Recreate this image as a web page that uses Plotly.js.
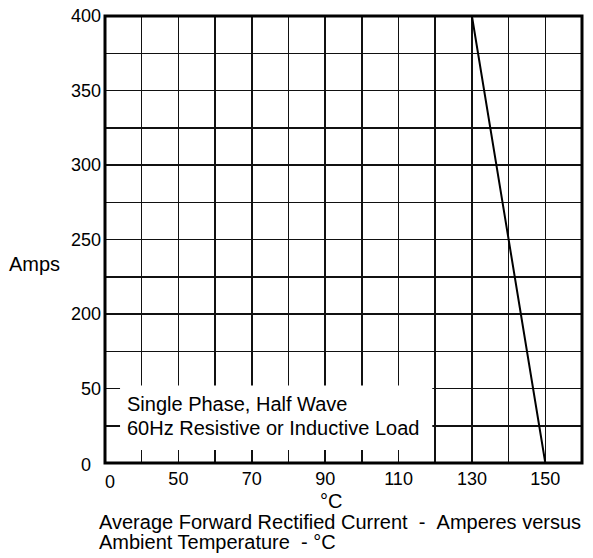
<!DOCTYPE html>
<html>
<head>
<meta charset="utf-8">
<script src="https://cdn.plot.ly/plotly-3.0.1.min.js"></script>
<style>html,body{margin:0;padding:0;background:#fff;}#chart{width:593px;height:558px;}</style>
</head>
<body>
<div id="chart"></div>
<script>
// ---- data (broken axes: left end labelled 0 °C, bottom labelled 0 A) ----
const tempC = [0, 130, 150];          // ambient temperature, °C
const amps  = [400, 400, 0];          // average forward rectified current, A
const xTickValues = [0, 50, 70, 90, 110, 130, 150];
const xTickLabels = ["0", "50", "70", "90", "110", "130", "150"];
const yTickValues = [0, 50, 200, 250, 300, 350, 400];
const yTickLabels = ["0", "50", "200", "250", "300", "350", "400"];
const noteLines = ["Single Phase, Half Wave", "60Hz Resistive or Inductive Load"];
const xUnit = "°C";
const captionLines = ["Average Forward Rectified Current  -  Amperes versus", "Ambient Temperature  - °C"];
const yTitle = "Amps";

// broken-axis mapping (value -> axis position)
function bx(t) { return t >= 50 ? t : 30 + t * 20 / 50; }
function by(a) { return a >= 200 ? a : 100 + a; }

const W = 593, H = 558, L = 105, R = 11, T = 16, B = 95;
const pw = W - L - R, ph = H - T - B;
const px = x => (x - L) / pw;
const py = y => (H - B - y) / ph;
const nb = s => s.replace(/  /g, '\u00a0\u00a0');

const FONT = 'Liberation Sans, Arial, Helvetica, sans-serif';

const trace = {
  x: tempC.map(bx), y: amps.map(by),
  type: 'scatter', mode: 'lines',
  line: {color: '#000', width: 2},
  hoverinfo: 'skip', showlegend: false
};

// grid every 10 °C / 25 A positions, labels only where the chart has them
const xtv = [], xtt = [], ytv = [], ytt = [];
for (let p = 30; p <= 160; p += 10) {
  xtv.push(p);
  const i = xTickValues.findIndex(v => v !== 0 && bx(v) === p);
  xtt.push(i >= 0 ? xTickLabels[i] : '');
}
for (let p = 100; p <= 400; p += 25) {
  ytv.push(p);
  const i = yTickValues.findIndex(v => v !== 0 && by(v) === p);
  ytt.push(i >= 0 ? yTickLabels[i] : '');
}

const ann = [];
const f = (s) => ({family: FONT, size: s, color: '#000'});
// zero labels of broken axes
ann.push({xref: 'paper', yref: 'paper', x: px(110), y: py(482), text: xTickLabels[0], showarrow: false,
  xanchor: 'center', yanchor: 'middle', font: f(18)});
ann.push({xref: 'paper', yref: 'paper', x: px(93), y: py(465), text: yTickLabels[0], showarrow: false,
  xanchor: 'right', yanchor: 'middle', font: f(18)});
// y title
ann.push({xref: 'paper', yref: 'paper', x: px(34.5), y: py(264), text: yTitle, showarrow: false,
  xanchor: 'center', yanchor: 'middle', font: f(20)});
// note in plot
ann.push({xref: 'paper', yref: 'paper', x: px(125), y: py(404), text: noteLines[0], showarrow: false,
  xanchor: 'left', yanchor: 'middle', font: f(20)});
ann.push({xref: 'paper', yref: 'paper', x: px(125), y: py(428), text: noteLines[1], showarrow: false,
  xanchor: 'left', yanchor: 'middle', font: f(20)});
// x unit
ann.push({xref: 'paper', yref: 'paper', x: px(331), y: py(501), text: xUnit, showarrow: false,
  xanchor: 'center', yanchor: 'middle', font: f(20)});
// caption
ann.push({xref: 'paper', yref: 'paper', x: px(97), y: py(522), text: nb(captionLines[0]), showarrow: false,
  xanchor: 'left', yanchor: 'middle', font: f(20)});
ann.push({xref: 'paper', yref: 'paper', x: px(97), y: py(542), text: nb(captionLines[1]), showarrow: false,
  xanchor: 'left', yanchor: 'middle', font: f(20)});

const layout = {
  width: W, height: H,
  margin: {l: L, r: R, t: T, b: B, pad: 0},
  paper_bgcolor: '#fff', plot_bgcolor: '#fff',
  showlegend: false,
  xaxis: {
    range: [30, 160], fixedrange: true, zeroline: false, showline: false,
    tickmode: 'array', tickvals: xtv, ticktext: xtt, ticks: '', ticklabelstandoff: 3,
    showgrid: true, gridcolor: '#111', gridwidth: 1.5,
    tickfont: f(18)
  },
  yaxis: {
    range: [100, 400], fixedrange: true, zeroline: false, showline: false,
    tickmode: 'array', tickvals: ytv, ticktext: ytt, ticks: '', ticklabelstandoff: 3,
    showgrid: true, gridcolor: '#111', gridwidth: 1.5,
    tickfont: f(18)
  },
  shapes: [
    {type: 'rect', xref: 'x', yref: 'y', x0: 34.1, x1: 119.2, y0: 108.8, y1: 152,
      fillcolor: '#fff', line: {width: 0}, layer: 'between'},
    {type: 'rect', xref: 'paper', yref: 'paper', x0: 0, x1: 1, y0: 0, y1: 1,
      line: {color: '#000', width: 3}, layer: 'above'}
  ],
  annotations: ann
};

Plotly.newPlot('chart', [trace], layout, {staticPlot: true, displayModeBar: false});
</script>
</body>
</html>
